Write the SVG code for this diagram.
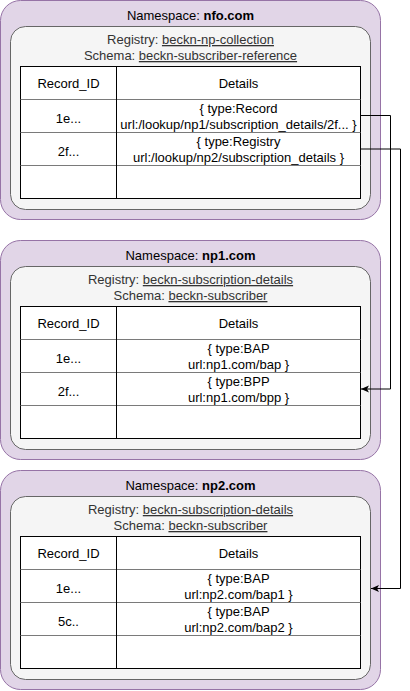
<svg xmlns="http://www.w3.org/2000/svg" width="410" height="691" viewBox="0 0 410 691">
<defs>
<style>
text{font-family:"Liberation Sans",Helvetica,Arial,sans-serif;font-size:13px;text-anchor:middle;fill:#000}
.outer{fill:#e1d5e7;stroke:#9673a6;stroke-width:1}
.inner{fill:#f5f5f5;stroke:#666666;stroke-width:1}
.tbl{fill:#ffffff;stroke:#000000;stroke-width:1}
.row{stroke:#7a7a7a;stroke-width:1;fill:none}
.col{stroke:#000000;stroke-width:1;fill:none}
.reg{fill:#333333}
.u{text-decoration:underline}
.b{font-weight:bold}
.conn{fill:none;stroke:#000000;stroke-width:1}
</style>
<marker id="arr" viewBox="0 0 8 8" refX="8" refY="4" markerWidth="8" markerHeight="8" markerUnits="userSpaceOnUse" orient="auto">
<path d="M0,0.5 L8,4 L0,7.5 L2,4 Z" fill="#000000"/>
</marker>
</defs>

<g id="ns-nfo">
<rect class="outer" x="0.5" y="0.5" width="380" height="219" rx="20" ry="20"/>
<text x="190.5" y="19.5">Namespace: <tspan class="b">nfo.com</tspan></text>
<g id="reg-nfo">
<rect class="inner" x="10.5" y="26.5" width="360" height="183" rx="15" ry="15"/>
<text class="reg" x="190.5" y="44">Registry: <tspan class="u">beckn-np-collection</tspan></text>
<text class="reg" x="190.5" y="60">Schema: <tspan class="u">beckn-subscriber-reference</tspan></text>
</g>
<g id="table-nfo">
<rect class="tbl" x="20.5" y="66.5" width="340" height="132"/>
<path class="row" d="M20.5 99.5H360.5M20.5 132.5H360.5M20.5 165.5H360.5"/>
<path class="col" d="M116.5 66.5V198.5"/>
<text x="68.5" y="87.5">Record_ID</text>
<text x="238.5" y="87.5">Details</text>
<text x="68.5" y="122.5">1e...</text>
<text x="238.5" y="113">{ type:Record</text>
<text x="238.5" y="129">url:/lookup/np1/subscription_details/2f... }</text>
<text x="68.5" y="155.5">2f...</text>
<text x="238.5" y="146">{ type:Registry</text>
<text x="238.5" y="162">url:/lookup/np2/subscription_details }</text>
</g>
</g>

<g id="ns-np1" transform="translate(0,240)">
<rect class="outer" x="0.5" y="0.5" width="380" height="219" rx="20" ry="20"/>
<text x="190.5" y="19.5">Namespace: <tspan class="b">np1.com</tspan></text>
<g id="reg-np1">
<rect class="inner" x="10.5" y="26.5" width="360" height="183" rx="15" ry="15"/>
<text class="reg" x="190.5" y="44">Registry: <tspan class="u">beckn-subscription-details</tspan></text>
<text class="reg" x="190.5" y="60">Schema: <tspan class="u">beckn-subscriber</tspan></text>
</g>
<g id="table-np1">
<rect class="tbl" x="20.5" y="66.5" width="340" height="132"/>
<path class="row" d="M20.5 99.5H360.5M20.5 132.5H360.5M20.5 165.5H360.5"/>
<path class="col" d="M116.5 66.5V198.5"/>
<text x="68.5" y="87.5">Record_ID</text>
<text x="238.5" y="87.5">Details</text>
<text x="68.5" y="122.5">1e...</text>
<text x="238.5" y="113">{ type:BAP</text>
<text x="238.5" y="129">url:np1.com/bap }</text>
<text x="68.5" y="155.5">2f...</text>
<text x="238.5" y="146">{ type:BPP</text>
<text x="238.5" y="162">url:np1.com/bpp }</text>
</g>
</g>

<g id="ns-np2" transform="translate(0,470)">
<rect class="outer" x="0.5" y="0.5" width="380" height="219" rx="20" ry="20"/>
<text x="190.5" y="19.5">Namespace: <tspan class="b">np2.com</tspan></text>
<g id="reg-np2">
<rect class="inner" x="10.5" y="26.5" width="360" height="183" rx="15" ry="15"/>
<text class="reg" x="190.5" y="44">Registry: <tspan class="u">beckn-subscription-details</tspan></text>
<text class="reg" x="190.5" y="60">Schema: <tspan class="u">beckn-subscriber</tspan></text>
</g>
<g id="table-np2">
<rect class="tbl" x="20.5" y="66.5" width="340" height="132"/>
<path class="row" d="M20.5 99.5H360.5M20.5 132.5H360.5M20.5 165.5H360.5"/>
<path class="col" d="M116.5 66.5V198.5"/>
<text x="68.5" y="87.5">Record_ID</text>
<text x="238.5" y="87.5">Details</text>
<text x="68.5" y="122.5">1e...</text>
<text x="238.5" y="113">{ type:BAP</text>
<text x="238.5" y="129">url:np2.com/bap1 }</text>
<text x="68.5" y="155.5">5c..</text>
<text x="238.5" y="146">{ type:BAP</text>
<text x="238.5" y="162">url:np2.com/bap2 }</text>
</g>
</g>

<g id="connectors">
<path class="conn" d="M360.5 115.5H390.5V389H361" marker-end="url(#arr)"/>
<path class="conn" d="M360.5 149H400.5V588.5H371" marker-end="url(#arr)"/>
</g>
</svg>
